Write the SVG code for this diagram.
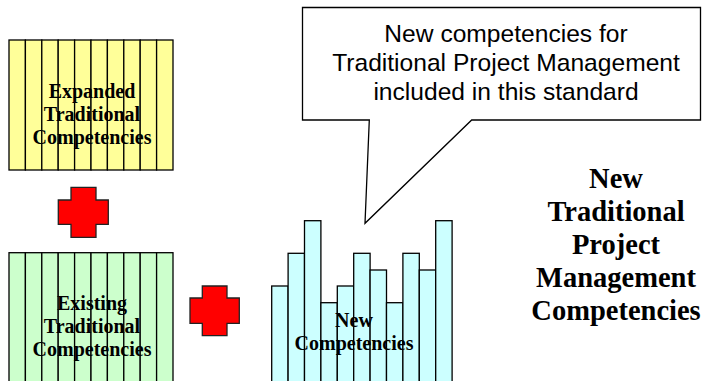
<svg xmlns="http://www.w3.org/2000/svg" width="704" height="381" viewBox="0 0 704 381">
<style>
.col{stroke:#000;stroke-width:1.3}
.y{fill:#FFFF99}
.g{fill:#CCFFCC}
.c{fill:#CCFFFF}
.cross{fill:#FF0000;stroke:#222;stroke-width:1.3}
.lbl{font-family:"Liberation Serif","Times New Roman",serif;font-weight:bold;font-size:20px;fill:#000;text-anchor:middle}
.big{font-family:"Liberation Serif","Times New Roman",serif;font-weight:bold;font-size:28.5px;fill:#000;text-anchor:middle}
.call{font-family:"Liberation Sans",Arial,sans-serif;font-size:24.6px;fill:#000;text-anchor:middle}
</style>
<rect width="704" height="381" fill="#fff"/>
<g id="expanded">
<rect class="col y" x="9" y="40" width="16.4" height="130"/>
<rect class="col y" x="25.4" y="40" width="16.4" height="130"/>
<rect class="col y" x="41.8" y="40" width="16.4" height="130"/>
<rect class="col y" x="58.2" y="40" width="16.4" height="130"/>
<rect class="col y" x="74.6" y="40" width="16.4" height="130"/>
<rect class="col y" x="91" y="40" width="16.4" height="130"/>
<rect class="col y" x="107.4" y="40" width="16.4" height="130"/>
<rect class="col y" x="123.8" y="40" width="16.4" height="130"/>
<rect class="col y" x="140.2" y="40" width="16.4" height="130"/>
<rect class="col y" x="156.6" y="40" width="16.4" height="130"/>
<text class="lbl" x="92" y="98">Expanded</text>
<text class="lbl" x="92" y="121">Traditional</text>
<text class="lbl" x="92" y="144">Competencies</text>
</g>
<g id="plus1">
<polygon class="cross" points="71,187.3 96,187.3 96,200 108.3,200 108.3,224.3 96,224.3 96,237.3 71,237.3 71,224.3 58.3,224.3 58.3,200 71,200"/>
</g>
<g id="existing">
<rect class="col g" x="9" y="252.7" width="16.4" height="140"/>
<rect class="col g" x="25.4" y="252.7" width="16.4" height="140"/>
<rect class="col g" x="41.8" y="252.7" width="16.4" height="140"/>
<rect class="col g" x="58.2" y="252.7" width="16.4" height="140"/>
<rect class="col g" x="74.6" y="252.7" width="16.4" height="140"/>
<rect class="col g" x="91" y="252.7" width="16.4" height="140"/>
<rect class="col g" x="107.4" y="252.7" width="16.4" height="140"/>
<rect class="col g" x="123.8" y="252.7" width="16.4" height="140"/>
<rect class="col g" x="140.2" y="252.7" width="16.4" height="140"/>
<rect class="col g" x="156.6" y="252.7" width="16.4" height="140"/>
<text class="lbl" x="92" y="310">Existing</text>
<text class="lbl" x="92" y="333">Traditional</text>
<text class="lbl" x="92" y="356">Competencies</text>
</g>
<g id="plus2">
<polygon class="cross" points="202.3,286 227,286 227,298 239.3,298 239.3,323.3 227,323.3 227,335.7 202.3,335.7 202.3,323.3 190,323.3 190,298 202.3,298"/>
</g>
<g id="new">
<rect class="col c" x="271.7" y="286" width="16.4" height="110"/>
<rect class="col c" x="288.1" y="253.3" width="16.4" height="140"/>
<rect class="col c" x="304.5" y="220.7" width="16.4" height="170"/>
<rect class="col c" x="320.9" y="302.7" width="16.4" height="90"/>
<rect class="col c" x="337.3" y="286" width="16.4" height="110"/>
<rect class="col c" x="353.7" y="253.3" width="16.4" height="140"/>
<rect class="col c" x="370.1" y="270" width="16.4" height="120"/>
<rect class="col c" x="386.5" y="302.7" width="16.4" height="90"/>
<rect class="col c" x="402.9" y="253.3" width="16.4" height="140"/>
<rect class="col c" x="419.3" y="270" width="16.4" height="120"/>
<rect class="col c" x="435.7" y="220.7" width="16.4" height="170"/>
<text class="lbl" x="354" y="327">New</text>
<text class="lbl" x="354" y="350">Competencies</text>
</g>
<g id="callout">
<path d="M302.5,7.5 H700.5 V120 H471.7 L365,223.3 L369.3,120 H302.5 Z" fill="#fff" stroke="#000" stroke-width="1.3"/>
<text class="call" x="506" y="42">New competencies for</text>
<text class="call" x="506" y="71">Traditional Project Management</text>
<text class="call" x="506" y="100">included in this standard</text>
</g>
<g id="result">
<text class="big" x="616" y="188">New</text>
<text class="big" x="616" y="221">Traditional</text>
<text class="big" x="616" y="254">Project</text>
<text class="big" x="616" y="287">Management</text>
<text class="big" x="616" y="320">Competencies</text>
</g>
<g id="connectors"></g>
</svg>
